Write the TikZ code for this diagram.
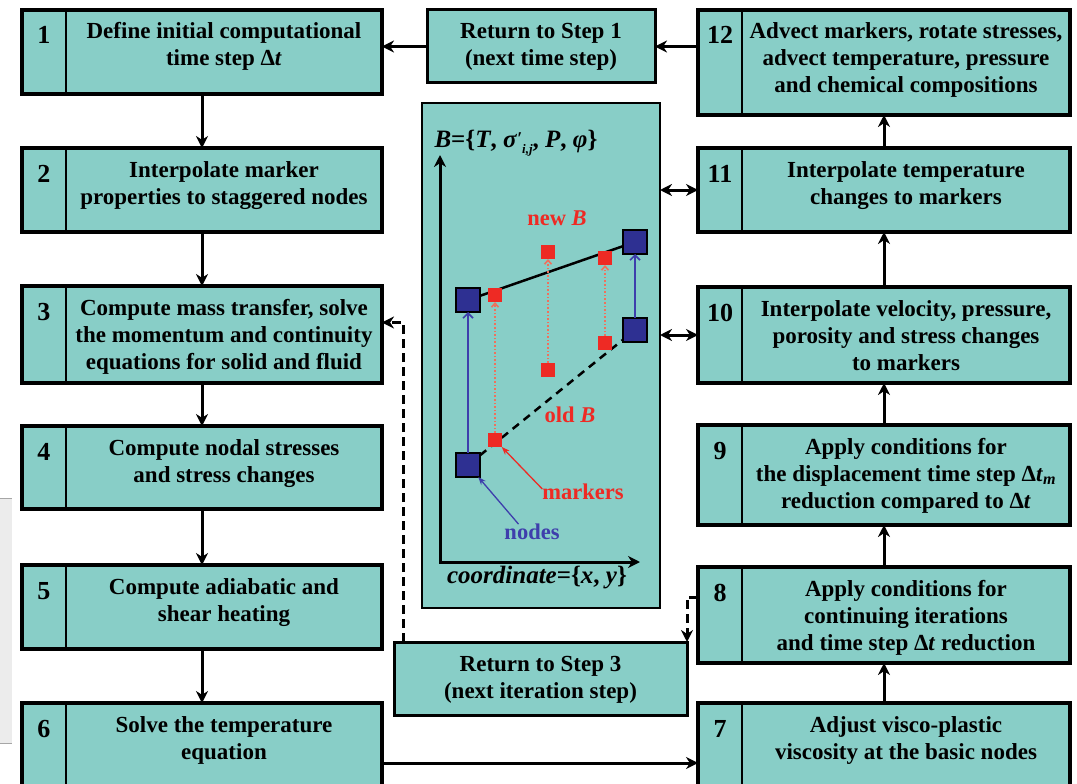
\documentclass[tikz,border=0pt]{standalone}
\usepackage{fontspec}
\setmainfont{Liberation Serif}
\usetikzlibrary{arrows.meta, positioning, fit}

\definecolor{boxteal}{RGB}{136,206,199}
\definecolor{nodeblue}{RGB}{46,48,146}
\definecolor{labelblue}{RGB}{62,62,172}
\definecolor{markred}{RGB}{238,42,36}
\definecolor{dotred}{RGB}{240,112,92}

\newcommand{\boxtext}[3]{\parbox[c][#1][t]{#2}{\centering\rule{0pt}{29pt}#3}}
\newcommand{\boxnum}[2]{\parbox[c][#1][t]{44pt}{\centering\rule{0pt}{34pt}#2}}
\newcommand{\dtime}{Δ\textit{t}}

\begin{document}
\begin{tikzpicture}[x=1pt, y=-1pt,
	every node/.style={inner sep=0pt, outer sep=0pt},
	>={Stealth[length=12pt, width=12pt]},
	cell/.style={draw, fill=boxteal, line width=1.8pt, font=\fontsize{23}{27}\selectfont\bfseries},
	numcell/.style={cell, font=\fontsize{26}{27}\selectfont\bfseries},
	frame/.style={draw, line width=3.2pt},
	link/.style={->, line width=3pt},
	backlink/.style={link, dash pattern=on 9pt off 5pt},
	gridpt/.style={draw, fill=nodeblue, line width=1.2pt, minimum size=24pt},
	marker/.style={fill=markred, minimum size=14pt},
	redlabel/.style={text=markred, font=\fontsize{22.5}{27}\selectfont\bfseries},
	axislabel/.style={font=\fontsize{25}{27}\selectfont\bfseries}]

	\useasboundingbox (0,0) rectangle (1077,784);
	\clip (0,0) rectangle (1077,784);
	\fill[white] (0,0) rectangle (1077,784);
	\fill[gray!15] (0,498) rectangle (12,743);
	\draw[gray!70, line width=0.8pt] (0,498) -- (12,498) (0,743) -- (12,743);

	% left column
	\node[numcell, anchor=north west] (n1) at (22,10) {\boxnum{84pt}{1}};
	\node[cell, right=0pt of n1] (s1) {\boxtext{84pt}{316pt}{Define initial computational\\ time step \dtime}};
	\node[frame, fit=(n1)(s1)] (b1) {};
	\node[numcell, below=54pt of n1] (n2) {\boxnum{84pt}{2}};
	\node[cell, right=0pt of n2] (s2) {\boxtext{84pt}{316pt}{Interpolate marker\\ properties to staggered nodes}};
	\node[frame, fit=(n2)(s2)] (b2) {};
	\node[numcell, below=54pt of n2] (n3) {\boxnum{97pt}{3}};
	\node[cell, right=0pt of n3] (s3) {\boxtext{97pt}{316pt}{Compute mass transfer, solve\\ the momentum and continuity\\ equations for solid and fluid}};
	\node[frame, fit=(n3)(s3)] (b3) {};
	\node[numcell, below=43pt of n3] (n4) {\boxnum{83pt}{4}};
	\node[cell, right=0pt of n4] (s4) {\boxtext{83pt}{316pt}{Compute nodal stresses\\ and stress changes}};
	\node[frame, fit=(n4)(s4)] (b4) {};
	\node[numcell, below=56pt of n4] (n5) {\boxnum{84pt}{5}};
	\node[cell, right=0pt of n5] (s5) {\boxtext{84pt}{316pt}{Compute adiabatic and\\ shear heating}};
	\node[frame, fit=(n5)(s5)] (b5) {};
	\node[numcell, below=54pt of n5] (n6) {\boxnum{120pt}{6}};
	\node[cell, right=0pt of n6] (s6) {\boxtext{120pt}{316pt}{Solve the temperature\\ equation}};
	\node[frame, fit=(n6)(s6)] (b6) {};

	% right column
	\node[numcell, anchor=north west] (n12) at (698,10) {\boxnum{105pt}{12}};
	\node[cell, right=0pt of n12] (s12) {\boxtext{105pt}{328pt}{Advect markers, rotate stresses,\\ advect temperature, pressure\\ and chemical compositions}};
	\node[frame, fit=(n12)(s12)] (b12) {};
	\node[numcell, below=33pt of n12] (n11) {\boxnum{84pt}{11}};
	\node[cell, right=0pt of n11] (s11) {\boxtext{84pt}{328pt}{Interpolate temperature\\ changes to markers}};
	\node[frame, fit=(n11)(s11)] (b11) {};
	\node[numcell, below=55pt of n11] (n10) {\boxnum{96pt}{10}};
	\node[cell, right=0pt of n10] (s10) {\boxtext{96pt}{328pt}{Interpolate velocity, pressure,\\ porosity and stress changes\\ to markers}};
	\node[frame, fit=(n10)(s10)] (b10) {};
	\node[numcell, below=42pt of n10] (n9) {\boxnum{100pt}{9}};
	\node[cell, right=0pt of n9] (s9) {\boxtext{100pt}{328pt}{Apply conditions for\\ the displacement time step \dtime\textsubscript{\textit{m}}\\ reduction compared to \dtime}};
	\node[frame, fit=(n9)(s9)] (b9) {};
	\node[numcell, below=42pt of n9] (n8) {\boxnum{96pt}{8}};
	\node[cell, right=0pt of n8] (s8) {\boxtext{96pt}{328pt}{Apply conditions for\\ continuing iterations\\ and time step \dtime{} reduction}};
	\node[frame, fit=(n8)(s8)] (b8) {};
	\node[numcell, below=40pt of n8] (n7) {\boxnum{120pt}{7}};
	\node[cell, right=0pt of n7] (s7) {\boxtext{120pt}{328pt}{Adjust visco-plastic\\ viscosity at the basic nodes}};
	\node[frame, fit=(n7)(s7)] (b7) {};

	% middle
	\node[cell, line width=3pt, anchor=north west] (r1) at (427,10) {\boxtext{73pt}{228pt}{Return to Step 1\\ (next time step)}};
	\node[cell, line width=3pt, anchor=north west] (r3) at (394,642) {\boxtext{73pt}{293pt}{Return to Step 3\\ (next iteration step)}};
	\node[draw, fill=boxteal, line width=2.2pt, minimum width=238pt, minimum height=505pt, anchor=north west] (panel) at (422,103) {};

	\draw[link] (b1) -- (b2);
	\draw[link] (b2) -- (b3);
	\draw[link] (b3) -- (b4);
	\draw[link] (b4) -- (b5);
	\draw[link] (b5) -- (b6);
	\draw[link] (b6) -- (b7);
	\draw[link] (b7) -- (b8);
	\draw[link] (b8) -- (b9);
	\draw[link] (b9) -- (b10);
	\draw[link] (b10) -- (b11);
	\draw[link] (b11) -- (b12);
	\draw[link] (r1.east -| b12.west) -- (r1.east);
	\draw[link] (r1.west) -- (r1.west -| b1.east);
	\draw[link, <->] (b11.west) -- (b11.west -| panel.east);
	\draw[link, <->] (b10.west) -- (b10.west -| panel.east);
	\draw[backlink] ([yshift=18pt]b8.west) -| (r3.north east);
	\draw[backlink] ([xshift=9pt]r3.north west) |- ([yshift=12pt]b3.east);

	% graph in the panel
	\coordinate (org) at (440,562);
	\coordinate (ytop) at (440,155);
	\coordinate (xend) at (640,562);
	\draw[line width=3pt, <->] (ytop) -- (org) -- (xend);
	\node[axislabel] (ylabel) at (516,143) {\textit{B}=\{\textit{T}, \textit{σ}\raisebox{3pt}{\fontsize{18}{18}\selectfont\textit{′}}\raisebox{-6pt}{\fontsize{13}{13}\selectfont\textit{i,j}}, \textit{P}, \textit{φ}\}};
	\node[axislabel] (xlabel) at (537,578) {\textit{coordinate}=\{\textit{x}, \textit{y}\}};

	\node[gridpt] (nA) at (468,300) {};
	\node[gridpt] (nB) at (468,465) {};
	\node[gridpt] (nC) at (635,242) {};
	\node[gridpt] (nD) at (635,330) {};
	\draw[line width=2.5pt] (nA) -- (nC);
	\draw[line width=2.5pt, dash pattern=on 8pt off 6pt] (nB) -- (nD);

	\node[marker] (mA) at (495,295) {};
	\node[marker] (mB) at (548,252) {};
	\node[marker] (mC) at (605,258) {};
	\node[marker] (oA) at (495,440) {};
	\node[marker] (oB) at (548,370) {};
	\node[marker] (oC) at (605,343) {};
	\draw[dotred, dotted, line width=1.6pt, -{Straight Barb[length=4pt, width=7pt]}] (oA) -- (mA);
	\draw[dotred, dotted, line width=1.6pt, -{Straight Barb[length=4pt, width=7pt]}] (oB) -- (mB);
	\draw[dotred, dotted, line width=1.6pt, -{Straight Barb[length=4pt, width=7pt]}] (oC) -- (mC);
	\draw[labelblue, line width=1.6pt, -{Straight Barb[length=5pt, width=10pt]}] (nB) -- (nA);
	\draw[labelblue, line width=1.6pt, -{Straight Barb[length=5pt, width=10pt]}] (nD) -- (nC);

	\node[redlabel] (newB) at (557,218) {new \textit{B}};
	\node[redlabel] (oldB) at (570,415) {old \textit{B}};
	\node[redlabel] (markers) at (583,492) {markers};
	\node[redlabel, text=labelblue] (nodes) at (532,532) {nodes};
	\draw[markred, line width=1.3pt, -{Stealth[length=8pt, width=6pt]}] ([yshift=-5pt]markers.north west) -- (oA);
	\draw[labelblue, line width=1.3pt, -{Stealth[length=8pt, width=6pt]}] ([xshift=14pt]nodes.north west) -- (nB);
\end{tikzpicture}
\end{document}
